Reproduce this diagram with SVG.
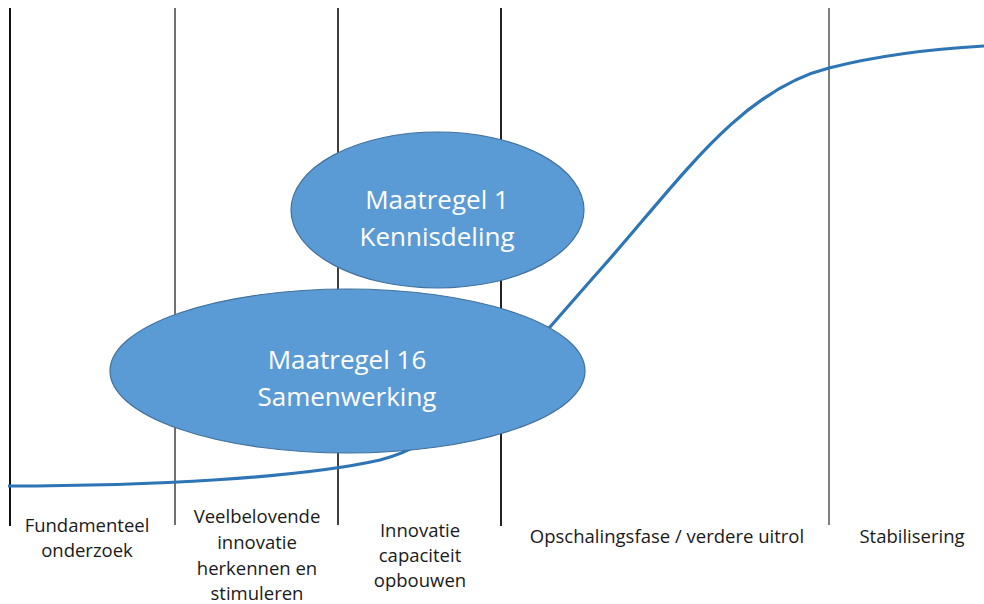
<svg xmlns="http://www.w3.org/2000/svg" width="984" height="604" viewBox="0 0 984 604">
<style>
.v{stroke-width:2;fill:none}
.curve{fill:none;stroke:#2E75B6;stroke-width:3.2}
.ell{fill:#5B9BD5;stroke:#41719C;stroke-width:1.2}
.et{font-family:"Open Sans","Liberation Sans",sans-serif;font-size:26px;fill:#ffffff;text-anchor:middle}
.lb{font-family:"Open Sans","Liberation Sans",sans-serif;font-size:18.5px;fill:#1a1a1a;text-anchor:middle}
</style>
<rect width="984" height="604" fill="#ffffff"/>
<g id="phase-lines">
<line class="v" x1="10" y1="8" x2="10" y2="526" stroke="#111111"/>
<line class="v" x1="175" y1="8" x2="175" y2="525" stroke="#707070"/>
<line class="v" x1="338" y1="8" x2="338" y2="525" stroke="#404040"/>
<line class="v" x1="501" y1="8" x2="501" y2="526" stroke="#222222"/>
<line class="v" x1="829" y1="8" x2="829" y2="525" stroke="#808080"/>
</g>
<g id="connectors">
<path class="curve" d="M8,486 C150,486 300,478 380,460 C460,440 520,360 600,270 C680,180 740,90 829,68 C880,55 930,49 984,46"/>
</g>
<g id="maatregel1">
<ellipse class="ell" cx="437.5" cy="210" rx="146.5" ry="78"/>
<text class="et" x="437" y="209">Maatregel 1</text>
<text class="et" x="437" y="246">Kennisdeling</text>
</g>
<g id="maatregel16">
<ellipse class="ell" cx="347.5" cy="371" rx="237.5" ry="82"/>
<text class="et" x="347" y="369">Maatregel 16</text>
<text class="et" x="347" y="406">Samenwerking</text>
</g>
<g id="labels">
<text class="lb" x="87" y="532">Fundamenteel</text>
<text class="lb" x="87" y="557">onderzoek</text>
<text class="lb" x="257" y="523">Veelbelovende</text>
<text class="lb" x="257" y="549">innovatie</text>
<text class="lb" x="257" y="575">herkennen en</text>
<text class="lb" x="257" y="600">stimuleren</text>
<text class="lb" x="420" y="537">Innovatie</text>
<text class="lb" x="420" y="562">capaciteit</text>
<text class="lb" x="420" y="587">opbouwen</text>
<text class="lb" x="667" y="543">Opschalingsfase / verdere uitrol</text>
<text class="lb" x="912" y="543">Stabilisering</text>
</g>
</svg>
